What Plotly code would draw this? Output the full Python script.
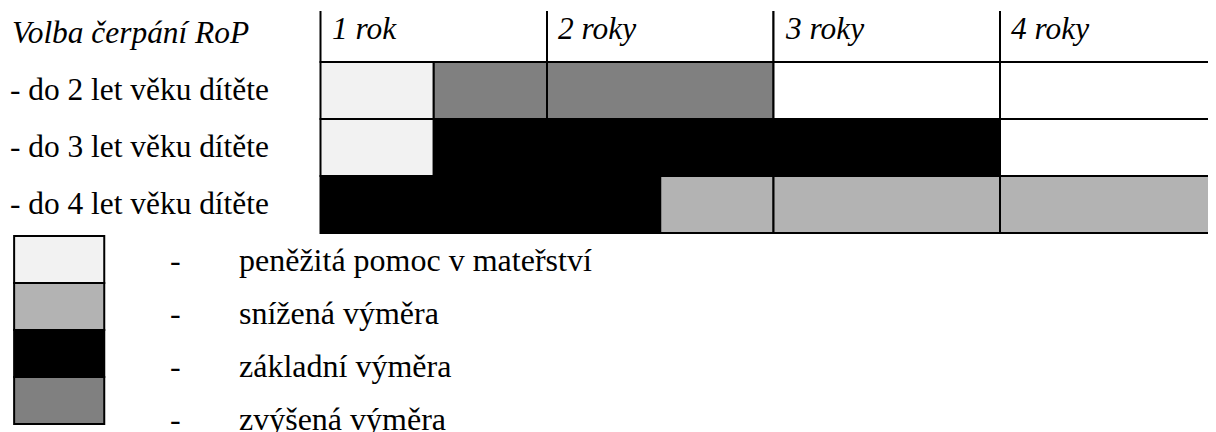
import plotly.graph_objects as go

# ---- data ----
years = ["1 rok", "2 roky", "3 roky", "4 roky"]
year_start = [0, 1, 2, 3]
row_title = "Volba čerpání RoP"
options = ["- do 2 let věku dítěte", "- do 3 let věku dítěte", "- do 4 let věku dítěte"]
option_row = [1, 2, 3]

# table cells: row, start year, end year, kind
seg_row = [1, 1, 1, 1, 1, 2, 2, 2, 3, 3, 3, 3]
seg_start = [0, 0.5, 1, 2, 3, 0, 0.5, 3, 0, 1.5, 2, 3]
seg_end = [0.5, 1, 2, 3, 4, 0.5, 3, 4, 1.5, 2, 3, 4]
seg_kind = ["pp", "zv", "zv", "none", "none", "pp", "zak", "none", "zak", "sn", "sn", "sn"]

legend_kinds = ["pp", "sn", "zak", "zv"]
legend_labels = ["peněžitá pomoc v mateřství", "snížená výměra", "základní výměra", "zvýšená výměra"]

kind_color = {"pp": "#f2f2f2", "sn": "#b3b3b3", "zak": "#000000", "zv": "#808080", "none": "#ffffff"}

# ---- layout geometry (pixels in the 1216x432 window; page body has an 8px margin) ----
OFF = 8
W, H = 1216 - OFF, 432 - OFF
FONT = "Liberation Serif, Tinos, Times New Roman, serif"
FS_TABLE = 31.4
FS_LEG = 32

def py(px):
    return 1 - (px - OFF) / H

def pxx(px):
    return (px - OFF) / W

fig = go.Figure()

# header row cells
fig.add_trace(go.Bar(
    orientation="h", y=[0] * len(years), x=[1] * len(years), base=year_start, width=1,
    marker=dict(color="white", line=dict(color="black", width=2)),
    hoverinfo="skip", xaxis="x", yaxis="y"))

# body cells
fig.add_trace(go.Bar(
    orientation="h", y=seg_row, x=[e - s for s, e in zip(seg_start, seg_end)], base=seg_start, width=1,
    marker=dict(color=[kind_color[k] for k in seg_kind], line=dict(color="black", width=2)),
    hoverinfo="skip", xaxis="x", yaxis="y"))

# legend swatches
fig.add_trace(go.Bar(
    orientation="h", y=list(range(len(legend_kinds))), x=[1] * len(legend_kinds), base=0, width=1,
    marker=dict(color=[kind_color[k] for k in legend_kinds], line=dict(color="black", width=2)),
    hoverinfo="skip", xaxis="x2", yaxis="y2"))

unit_x = 226.5
x0_px = 320.5
dom_l = 318
unit_y = 57
yc0 = 33.5
dom_t, dom_b = 3 + OFF, 236

annotations = []
for yr, xs in zip(years, year_start):
    annotations.append(dict(text=yr, x=xs, y=0, xref="x", yref="y", xanchor="left", yanchor="middle",
                            xshift=9, yshift=5, showarrow=False,
                            font=dict(family=FONT, size=FS_TABLE, color="black", style="italic")))
annotations.append(dict(text=row_title, x=pxx(10), y=0, xref="paper", yref="y", xanchor="left",
                        yanchor="middle", yshift=1, showarrow=False,
                        font=dict(family=FONT, size=FS_TABLE, color="black", style="italic")))
for lab, r in zip(options, option_row):
    annotations.append(dict(text=lab, x=pxx(8), y=r, xref="paper", yref="y", xanchor="left",
                            yanchor="middle", yshift=1, showarrow=False,
                            font=dict(family=FONT, size=FS_TABLE, color="black")))
leg_y0, leg_dy = 260, 53
for i, lab in enumerate(legend_labels):
    yy = py(leg_y0 + i * leg_dy)
    annotations.append(dict(text="-", x=pxx(168), y=yy, xref="paper", yref="paper", xanchor="left",
                            yanchor="middle", showarrow=False,
                            font=dict(family=FONT, size=FS_LEG, color="black")))
    annotations.append(dict(text=lab, x=pxx(237), y=yy, xref="paper", yref="paper", xanchor="left",
                            yanchor="middle", showarrow=False,
                            font=dict(family=FONT, size=FS_LEG, color="black")))

leg_top, leg_unit = 236, 47
fig.update_layout(
    width=W, height=H,
    margin=dict(l=0, r=0, t=0, b=0),
    paper_bgcolor="white", plot_bgcolor="white",
    showlegend=False, barmode="overlay",
    xaxis=dict(domain=[pxx(dom_l), 1], range=[(dom_l - x0_px) / unit_x, (1216 - x0_px) / unit_x],
               visible=False, fixedrange=True),
    yaxis=dict(domain=[py(dom_b), py(dom_t)],
               range=[(dom_b - yc0) / unit_y, (dom_t - yc0) / unit_y], visible=False, fixedrange=True),
    xaxis2=dict(domain=[pxx(OFF), pxx(106)], range=[(OFF - 1) / -103.0, 1 + 2 / 103.0],
                visible=False, fixedrange=True, anchor="y2"),
    yaxis2=dict(domain=[py(leg_top + 4 * leg_unit + 2), py(leg_top - 2)],
                range=[(4 * leg_unit + 2) / leg_unit - 0.5, -2 / leg_unit - 0.5],
                visible=False, fixedrange=True, anchor="x2"),
    annotations=annotations,
)

fig.write_html("out.html")
